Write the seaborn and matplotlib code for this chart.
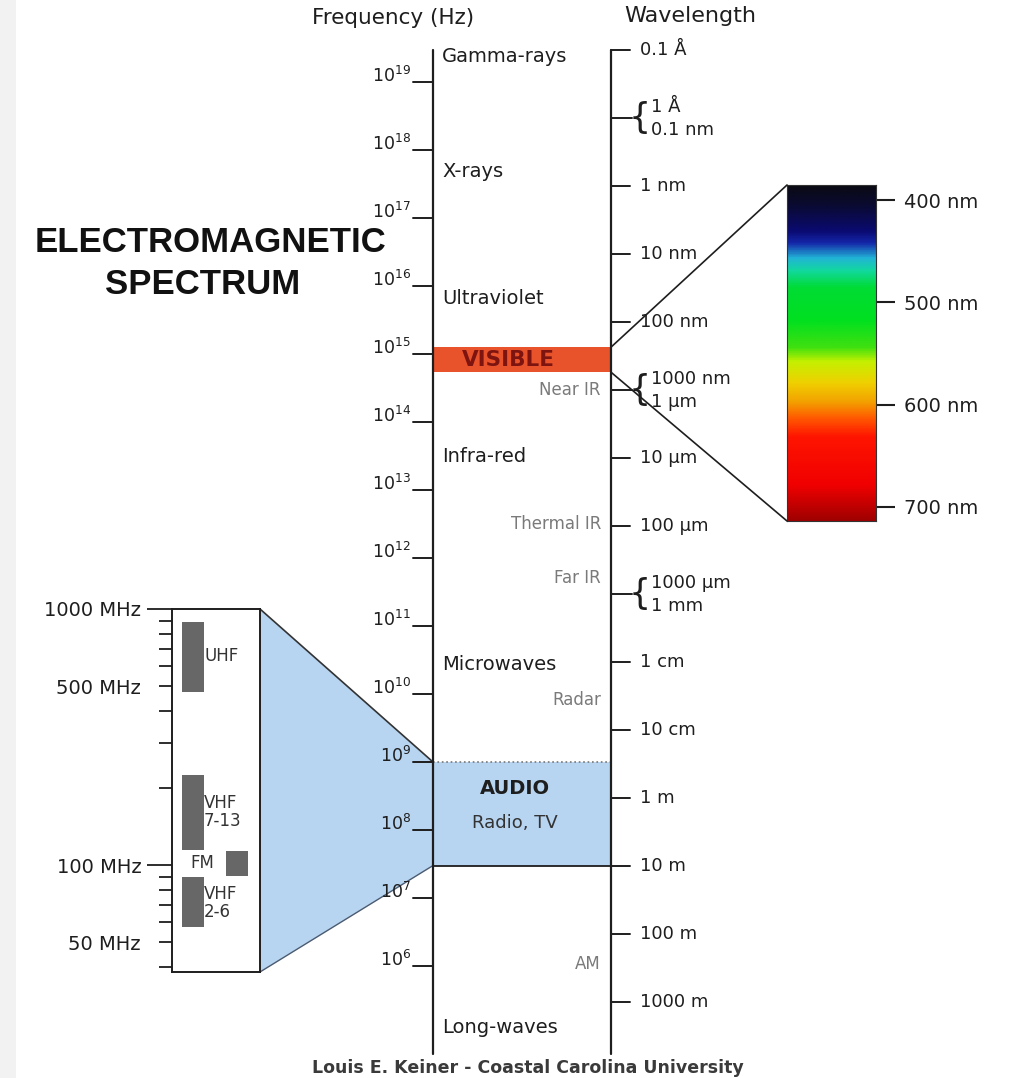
import numpy as np
import matplotlib
matplotlib.use('Agg')
from matplotlib import pyplot as plt
from matplotlib import transforms
from matplotlib.colors import LinearSegmentedColormap
from matplotlib.patches import Polygon, ConnectionPatch
import seaborn as sns

C = 2.998e8  # m/s

# frequency axis, powers of ten in Hz
freq_exp = [19, 18, 17, 16, 15, 14, 13, 12, 11, 10, 9, 8, 7, 6]

# wavelength axis
wave_m = [1e-11, 1e-9, 1e-8, 1e-7, 1e-5, 1e-4, 1e-2, 1e-1, 1, 10, 100, 1000]
wave_txt = ['0.1 Å', '1 nm', '10 nm', '100 nm', '10 µm', '100 µm',
            '1 cm', '10 cm', '1 m', '10 m', '100 m', '1000 m']
brace_m = [1e-10, 1e-6, 1e-3]
brace_txt = [('1 Å', '0.1 nm'), ('1000 nm', '1 µm'), ('1000 µm', '1 mm')]

# region names, at log10(Hz)
band_names = ['Gamma-rays', 'X-rays', 'Ultraviolet', 'Infra-red', 'Microwaves', 'Long-waves']
band_logf = [19.37, 17.68, 15.82, 13.49, 10.44, 5.09]
sub_names = ['Near IR', 'Thermal IR', 'Far IR', 'Radar', 'AM']
sub_logf = [14.47, 12.50, 11.71, 9.91, 6.03]

visible_hz = [5.4e14, 1.26e15]
audio_hz = [3.0e7, 1.0e9]

# TV / FM inset, MHz
tv_names = ['UHF', 'VHF\n7-13', 'FM', 'VHF\n2-6']
tv_lo = [474, 114.5, 90.6, 57.3]
tv_hi = [890, 224.7, 113.5, 89.8]
tv_major = [100, 1000]
tv_major_txt = ['100 MHz', '1000 MHz']
tv_minor = [40, 50, 60, 70, 80, 90, 200, 300, 400, 500, 600, 700, 800, 900]
tv_minor_txt = ['', '50 MHz', '', '', '', '', '', '', '', '500 MHz', '', '', '', '']

# visible spectrum colour stops, nm
spec_nm = [385, 403, 429, 441, 456, 468, 485, 517, 544, 558, 579, 598, 612, 632, 680, 714]
spec_col = ['#0a0a14', '#0a0a30', '#0a0a70', '#1426a8', '#22b4d6', '#12d8a0',
            '#00dc34', '#00e020', '#40e010', '#c4f000', '#f0d000', '#f3a000',
            '#ff6000', '#ff1400', '#f00000', '#a00000']
spec_ticks = [400, 500, 600, 700]

# ---- layout (pixels of the 1015x1078 picture) ----
W, H = 1015, 1078
INK = '#1e1e1e'
BLUE = '#b7d4f0'


def hz(ypx):
    # picture row -> frequency on the main log axis (68 px per decade)
    return 10 ** (19 - (ypx - 82) / 68)


sns.set_theme(style='white')
plt.rcParams['font.family'] = ['DejaVu Sans']

fig = plt.figure(figsize=(W / 100, H / 100), dpi=100)
ax = fig.add_axes([0, 0, 1, 1])
ax.set_yscale('log')
ax.set_xlim(0, W)
ax.set_ylim(hz(H), hz(0))
ax.axis('off')

ax.axvspan(0, 16, color='#f2f2f2', lw=0)

# headers
ax.text(393, hz(18), 'Frequency (Hz)', ha='center', va='center', fontsize=15.5, color=INK)
ax.text(690, hz(16), 'Wavelength', ha='center', va='center', fontsize=16, color=INK)
ax.text(211, hz(243), 'ELECTROMAGNETIC', ha='center', va='center', fontsize=25,
        fontweight='bold', family='Liberation Sans', color='#111')
ax.text(203, hz(285), 'SPECTRUM', ha='center', va='center', fontsize=25,
        fontweight='bold', family='Liberation Sans', color='#111')

# coloured bands
ax.fill_between([433, 611], visible_hz[0], visible_hz[1], color='#e8532b', lw=0, zorder=1)
ax.text(508, np.sqrt(visible_hz[0] * visible_hz[1]), 'VISIBLE', ha='center', va='center',
        fontsize=15.5, fontweight='bold', color='#7e1410', zorder=3)
ax.fill_between([433, 611], audio_hz[0], audio_hz[1], color=BLUE, lw=0, zorder=1)
ax.plot([433, 611], [audio_hz[1]] * 2, ls=':', color='#777', lw=1.2, zorder=2)
ax.plot([433, 611], [audio_hz[0]] * 2, color=INK, lw=1.3, zorder=2)
ax.text(515, hz(788), 'AUDIO', ha='center', va='center', fontsize=14, fontweight='bold', color=INK)
ax.text(515, hz(823), 'Radio, TV', ha='center', va='center', fontsize=13, color='#333')

# frequency axis
f_bot, f_top = 5e4, C / wave_m[0]
ax.plot([433, 433], [f_bot, f_top], color=INK, lw=1.6, zorder=4)
for e in freq_exp:
    ax.plot([413, 433], [10.0 ** e] * 2, color=INK, lw=1.4, zorder=4)
    ax.text(411, 10.0 ** e, f'$10^{{{e}}}$', ha='right', va='baseline', fontsize=12.5, color=INK)

for name, lf in zip(band_names, band_logf):
    ax.text(442, 10 ** lf, name, va='center', fontsize=14, color=INK)
for name, lf in zip(sub_names, sub_logf):
    ax.text(601, 10 ** lf, name, ha='right', va='center', fontsize=12, color='#7a7a7a')

# wavelength axis
ax.plot([611, 611], [f_bot, f_top], color=INK, lw=1.6, zorder=4)
for m, t in zip(wave_m, wave_txt):
    f = C / m
    ax.plot([611, 630], [f, f], color=INK, lw=1.4, zorder=4)
    ax.text(640, f, t, va='center', fontsize=13, color=INK, zorder=6,
            bbox=dict(fc='white', ec='none', pad=1))
up = transforms.offset_copy(ax.transData, fig, y=11, units='dots')
dn = transforms.offset_copy(ax.transData, fig, y=-12, units='dots')
for m, (t1, t2) in zip(brace_m, brace_txt):
    f = C / m
    ax.plot([611, 632], [f, f], color=INK, lw=1.4, zorder=4)
    ax.text(629, f, '{', ha='left', va='center', fontsize=25, color=INK, zorder=6)
    ax.text(651, f, t1, va='center', fontsize=13, color=INK, transform=up, zorder=6,
            bbox=dict(fc='white', ec='none', pad=1))
    ax.text(651, f, t2, va='center', fontsize=13, color=INK, transform=dn, zorder=6,
            bbox=dict(fc='white', ec='none', pad=1))

# TV / FM inset
tv_x = [20.5, 20.5, 65, 20.5]
tv_lab_x = [33, 32, 30, 32]
tv_lab_y = [655, 161, 102, 71]
tv_lab_ha = ['left', 'left', 'center', 'left']
tv_top, tv_bot = 609, 972
ax_tv = fig.add_axes([172 / W, 1 - tv_bot / H, 88 / W, (tv_bot - tv_top) / H])
ax_tv.set_yscale('log')
ax_tv.set_ylim(38.2, 1000)
ax_tv.set_xlim(0, 88)
ax_tv.set_facecolor('white')
ax_tv.bar(tv_x, np.array(tv_hi) - np.array(tv_lo), bottom=tv_lo, width=22, color='#676767', lw=0)
for name, x, y, ha in zip(tv_names, tv_lab_x, tv_lab_y, tv_lab_ha):
    ax_tv.text(x, y, name, ha=ha, va='center', fontsize=12, color='#333', linespacing=1.05)
ax_tv.set_xticks([])
ax_tv.set_yticks(tv_major, tv_major_txt)
ax_tv.set_yticks(tv_minor, tv_minor_txt, minor=True)
ax_tv.tick_params(axis='y', which='major', left=True, length=18, width=1.3, pad=4,
                  labelsize=14, colors=INK)
ax_tv.tick_params(axis='y', which='minor', left=True, length=9.4, width=1.3, pad=12.9,
                  labelsize=14, colors=INK)
for s in ax_tv.spines.values():
    s.set_color(INK)
    s.set_linewidth(1.4)

# projection of the inset onto the audio band
ax.add_patch(Polygon([(260, hz(tv_top)), (433, audio_hz[1]), (433, audio_hz[0]), (260, hz(tv_bot))],
                     closed=True, fc=BLUE, ec='none', zorder=1))
ax.plot([260, 433], [hz(tv_top), audio_hz[1]], color='#333', lw=1.2, zorder=2)
ax.plot([260, 433], [hz(tv_bot), audio_hz[0]], color='#4a5a70', lw=1.0, zorder=2)

# visible spectrum strip
stops = [(v - spec_nm[0]) / (spec_nm[-1] - spec_nm[0]) for v in spec_nm]
cmap = LinearSegmentedColormap.from_list('spec', list(zip(stops, spec_col)))
ax_s = fig.add_axes([787 / W, 1 - 521 / H, 89 / W, 336 / H])
grad = np.linspace(spec_nm[0], spec_nm[-1], 400)[:, None]
ax_s.imshow(grad, aspect='auto', cmap=cmap, origin='lower',
            extent=(0, 1, spec_nm[0], spec_nm[-1]), vmin=spec_nm[0], vmax=spec_nm[-1])
ax_s.set_ylim(spec_nm[-1], spec_nm[0])
ax_s.set_xticks([])
ax_s.yaxis.tick_right()
ax_s.set_yticks(spec_ticks, [f'{v} nm' for v in spec_ticks])
ax_s.tick_params(axis='y', right=True, length=14, width=1.5, pad=6, labelsize=14, colors=INK)
for s in ax_s.spines.values():
    s.set_color('#333')
    s.set_linewidth(0.8)

for fa, yb in [(visible_hz[1], 1), (visible_hz[0], 0)]:
    con = ConnectionPatch(xyA=(611, fa), coordsA=ax.transData, xyB=(0, yb),
                          coordsB=ax_s.transAxes, color=INK, lw=1.2, zorder=3)
    fig.add_artist(con)

ax.text(528, hz(1068), 'Louis E. Keiner - Coastal Carolina University', ha='center',
        va='center', fontsize=12.5, fontweight='bold', color='#3a3a3a')

fig.savefig('out.png', dpi=100)
